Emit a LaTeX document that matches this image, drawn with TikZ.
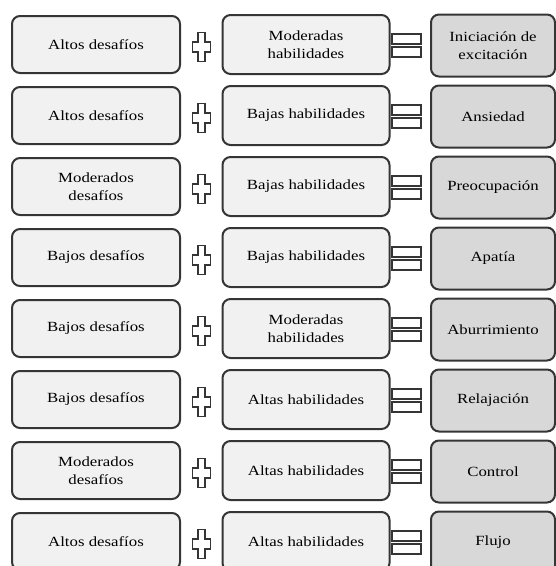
\documentclass[tikz,border=0pt]{standalone}
\usepackage{fontspec}
\setmainfont{Liberation Serif}[FakeStretch=1.2]
\definecolor{boxline}{HTML}{353535}
\definecolor{lightfill}{HTML}{F1F1F1}
\definecolor{darkfill}{HTML}{D8D8D8}
\begin{document}
\begin{tikzpicture}[x=1pt,y=-1pt,
  box/.style={draw=boxline, line width=2pt, rounded corners=8pt, align=center,
    font=\fontsize{14}{18}\selectfont, inner sep=0pt},
  lbox/.style={box, fill=lightfill, minimum width=168pt, minimum height=57pt},
  mbox/.style={box, fill=lightfill, minimum width=167pt, minimum height=59pt},
  rbox/.style={box, fill=darkfill, minimum width=124pt, minimum height=62pt},
  symline/.style={draw=boxline, line width=1.8pt, fill=white},
  plussign/.pic={\draw[symline] (-3.5,-14.5) -- (3.5,-14.5) -- (3.5,-5) -- (9,-5) -- (9,5) -- (3.5,5) -- (3.5,14.5) -- (-3.5,14.5) -- (-3.5,5) -- (-9,5) -- (-9,-5) -- (-3.5,-5) -- cycle;},
  equalsign/.pic={\draw[symline] (-14.5,-11.5) rectangle (14.5,-1.5);
                  \draw[symline] (-14.5,1.5) rectangle (14.5,11.5);}
]
\useasboundingbox (0,0) rectangle (556,566);
\begin{scope}
\clip (0,0) rectangle (556,566);
\foreach \i/\a/\b/\c in {
  1/{Altos desafíos}/{Moderadas\\habilidades}/{Iniciación de\\excitación},
  2/{Altos desafíos}/{Bajas habilidades}/{Ansiedad},
  3/{Moderados\\desafíos}/{Bajas habilidades}/{Preocupación},
  4/{Bajos desafíos}/{Bajas habilidades}/{Apatía},
  5/{Bajos desafíos}/{Moderadas\\habilidades}/{Aburrimiento},
  6/{Bajos desafíos}/{Altas habilidades}/{Relajación},
  7/{Moderados\\desafíos}/{Altas habilidades}/{Control},
  8/{Altos desafíos}/{Altas habilidades}/{Flujo}}{
  \pgfmathsetmacro\yc{44.5+71*(\i-1)}
  \node[lbox] (L\i) at (96,\yc) {\a};
  \node[mbox] (M\i) at (306,\yc) {\b};
  \node[rbox] (R\i) at (493,\yc+1) {\c};
  \pic at (201.5,\yc+2.5) {plussign};
  \pic at (406.5,\yc+1) {equalsign};
}
\end{scope}
\end{tikzpicture}
\end{document}
